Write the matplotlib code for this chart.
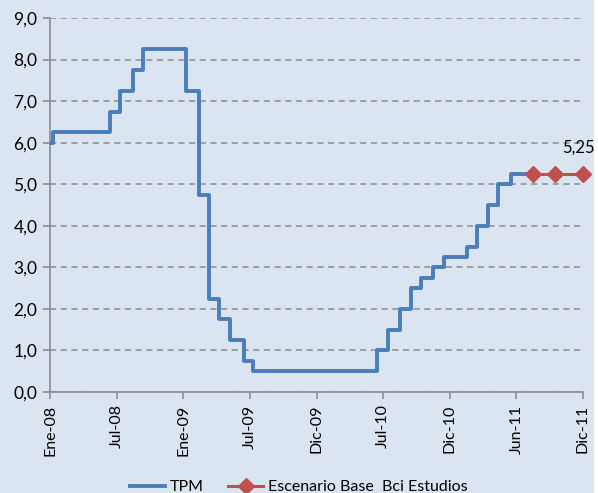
import matplotlib
matplotlib.use("Agg")
import matplotlib.pyplot as plt
import matplotlib.dates as mdates
from matplotlib.patches import Rectangle
import numpy as np
import pandas as pd

# TPM (Chile) - fechas de cambio y nivel vigente
tpm_dates = ["2008-01-01", "2008-01-10", "2008-06-12", "2008-07-10", "2008-08-14",
             "2008-09-11", "2009-01-08", "2009-02-12", "2009-03-12", "2009-04-09",
             "2009-05-07", "2009-06-16", "2009-07-09", "2010-06-15", "2010-07-15",
             "2010-08-17", "2010-09-16", "2010-10-14", "2010-11-16", "2010-12-14",
             "2011-02-17", "2011-03-17", "2011-04-14", "2011-05-12", "2011-06-16",
             "2011-08-15"]
tpm_values = [6.00, 6.25, 6.75, 7.25, 7.75, 8.25, 7.25, 4.75, 2.25, 1.75,
              1.25, 0.75, 0.50, 1.00, 1.50, 2.00, 2.50, 2.75, 3.00, 3.25,
              3.50, 4.00, 4.50, 5.00, 5.25, 5.25]

# Escenario base
esc_dates = ["2011-08-15", "2011-10-15", "2011-12-31"]
esc_values = [5.25, 5.25, 5.25]

xtick_labels = ["Ene-08", "Jul-08", "Ene-09", "Jul-09", "Dic-09",
                "Jul-10", "Dic-10", "Jun-11", "Dic-11"]

bg = "#DBE5F1"
blue = "#4A7EBB"
red = "#C0504D"

plt.rcParams['font.family'] = ['Lato', 'DejaVu Sans']

fig = plt.figure(figsize=(5.98, 4.93), dpi=100, facecolor=bg)
# franja blanca a la derecha
fig.patches.append(Rectangle((594 / 598, 0), 4 / 598, 1, transform=fig.transFigure,
                             facecolor="white", edgecolor="none"))
ax = fig.add_axes([50 / 598, 101 / 493, 533 / 598, 374 / 493])
ax.set_facecolor(bg)

t = pd.to_datetime(tpm_dates)
ax.step(t, tpm_values, where="post", color=blue, lw=2.8, label="TPM", zorder=3)

e = pd.to_datetime(esc_dates)
ax.plot(e, esc_values, color=red, lw=2.2, marker="D", markersize=8,
        label="Escenario Base  Bci Estudios", zorder=4, clip_on=False)
ax.annotate(f"{esc_values[-1]:.2f}".replace(".", ","), (e[-1], esc_values[-1]),
            xytext=(-3, 13), textcoords="offset points", ha="center", va="bottom",
            fontsize=12)

x0 = mdates.date2num(pd.Timestamp("2008-01-01"))
x1 = mdates.date2num(pd.Timestamp("2011-12-31"))
ax.set_xlim(x0, x1)
ax.set_xticks(np.linspace(x0, x1, len(xtick_labels)))
ax.set_xticklabels(xtick_labels, rotation=90, fontsize=11.5)

ax.set_ylim(0, 9)
ax.set_yticks(range(0, 10))
ax.set_yticklabels([f"{v:.1f}".replace(".", ",") for v in range(0, 10)], fontsize=12.5)

ax.grid(axis="y", color="#8C8C8C", linestyle=(0, (4, 3)), lw=1.1)
ax.set_axisbelow(True)
for s in ["top", "right"]:
    ax.spines[s].set_visible(False)
for s in ["left", "bottom"]:
    ax.spines[s].set_color("#8C8C8C")
    ax.spines[s].set_linewidth(1.2)
ax.tick_params(axis="both", colors="#8C8C8C", length=5, width=1.2, labelcolor="black")
ax.tick_params(axis="y", pad=4)
ax.tick_params(axis="x", pad=4)

fig.legend(loc="center", bbox_to_anchor=(0.5, 6 / 493), ncol=2, frameon=False,
           fontsize=11.5, handlelength=2.2, columnspacing=1.5, handletextpad=0.3)

fig.savefig("out.png", dpi=100, facecolor=bg)
